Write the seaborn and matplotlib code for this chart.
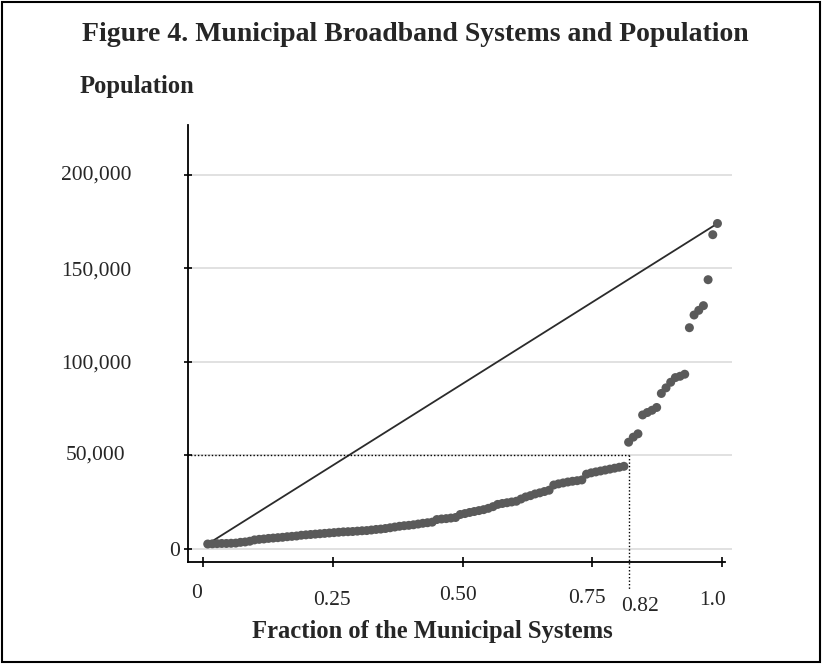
import matplotlib
matplotlib.use("Agg")
import matplotlib.pyplot as plt
import matplotlib.transforms as mtransforms
from matplotlib.patches import Rectangle
import numpy as np
import pandas as pd
import seaborn as sns

# population of each municipal system, sorted
population = [
    2400, 2500, 2600, 2700, 2700, 2800, 2900, 3300, 3500, 3900,
    4600, 4900, 5100, 5400, 5600, 5800, 6000, 6300, 6500, 6700,
    7100, 7300, 7500, 7700, 7900, 8100, 8300, 8500, 8700, 8900,
    9000, 9100, 9300, 9500, 9600, 9900, 10200, 10400, 10700, 11100,
    11500, 11900, 12200, 12400, 12700, 13100, 13500, 13800, 14100, 15500,
    15800, 16000, 16300, 16600, 18200, 18700, 19300, 19800, 20300, 20800,
    21500, 22400, 23600, 24100, 24500, 24900, 25300, 26500, 27600, 28300,
    29200, 29800, 30500, 31200, 34000, 34600, 35100, 35600, 36000, 36300,
    36700, 39800, 40500, 41000, 41500, 42000, 42500, 43000, 43500, 44000,
    56900, 59600, 61400, 71500, 72800, 74000, 75500, 83000, 86000, 89000,
    91500, 92200, 93300, 118200, 125000, 127500, 130000, 143900, 168000, 174000,
]
cutoff_fraction = 0.82
cutoff_population = 50000
y_ticks = [0, 50000, 100000, 150000, 200000]
y_labels = ["0", "50,000", "100,000", "150,000", "200,000"]
x_ticks = [0, 0.25, 0.50, 0.75, 0.82, 1.0]
x_labels = ["0", "0.25", "0.50", "0.75", "0.82", "1.0"]

n = len(population)
df = pd.DataFrame({"fraction": [(i + 1) / (n + 1) for i in range(n)],
                   "population": population})
# straight line from the smallest to the largest system
diag = df.iloc[[0, -1]]

sns.set_style("white")
plt.rcParams["font.family"] = ["Liberation Serif", "DejaVu Serif"]

fig = plt.figure(figsize=(8.22, 6.64), dpi=100)
ax = fig.add_axes([0.2287, 0.1536, 0.6618, 0.6581])

for yv in y_ticks:
    ax.axhline(yv, color="#dcdcdc", lw=1.2, zorder=0)

sns.lineplot(x="fraction", y="population", data=diag, color="#2b2b2b", lw=1.3, ax=ax, zorder=2)
sns.scatterplot(x="fraction", y="population", data=df, color="#5a5a5a", s=42,
                edgecolor="none", ax=ax, zorder=3)

ax.plot([-0.03, cutoff_fraction], [cutoff_population, cutoff_population],
        ls=(0, (1, 1.5)), color="black", lw=1.0, zorder=4)
ax.plot([cutoff_fraction, cutoff_fraction], [cutoff_population, -22000],
        ls=(0, (1, 1.5)), color="black", lw=1.0, zorder=4, clip_on=False)

ax.set_xlim(-0.029, 1.019)
ax.set_ylim(-7230, 226700)
ax.spines["top"].set_visible(False)
ax.spines["right"].set_visible(False)
ax.spines["bottom"].set_bounds(-0.029, 1.006)
for s in ["left", "bottom"]:
    ax.spines[s].set_color("black")
    ax.spines[s].set_linewidth(1.3)

ax.set_yticks(y_ticks)
ax.set_yticklabels(y_labels, fontsize=15.5)
ax.set_xticks(x_ticks)
ax.set_xticklabels(x_labels, fontsize=15.5)
ax.tick_params(axis="y", left=True, direction="inout", length=6, width=1.2, pad=38, color="black")
ax.tick_params(axis="x", bottom=True, direction="inout", length=7, width=1.2, pad=12, color="black")
ax.xaxis.get_major_ticks()[4].tick1line.set_visible(False)

# nudge the labels the way the original has them (pixels, up is positive)
x_off = {0: (-6, 0), 1: (-1, -7), 2: (-5, -2), 3: (-5, -5), 4: (11, -13), 5: (-10, -7)}
for i, lab in enumerate(ax.get_xticklabels()):
    dx, dy = x_off[i]
    lab.set_transform(lab.get_transform() + mtransforms.ScaledTranslation(dx / 100, dy / 100, fig.dpi_scale_trans))
y_off = {0: (49, 0), 1: (-6, 3), 4: (0, 2)}
for i, lab in enumerate(ax.get_yticklabels()):
    if i in y_off:
        dx, dy = y_off[i]
        lab.set_transform(lab.get_transform() + mtransforms.ScaledTranslation(dx / 100, dy / 100, fig.dpi_scale_trans))

ax.set_xlabel("Fraction of the Municipal Systems", fontsize=17.7, fontweight="bold")
ax.xaxis.set_label_coords(0.45, -0.132)
ax.set_ylabel("Population", fontsize=17.7, fontweight="bold", rotation=0, ha="left", va="center")
ax.yaxis.set_label_coords(-0.199, 1.088)

fig.suptitle("Figure 4. Municipal Broadband Systems and Population", fontsize=20,
             fontweight="bold", x=0.505, y=0.948, va="center")
fig.patches.append(Rectangle((0.003, 0.003), 0.994, 0.994, transform=fig.transFigure,
                             fill=False, ec="black", lw=1.5))

fig.savefig("out.png", dpi=100)
